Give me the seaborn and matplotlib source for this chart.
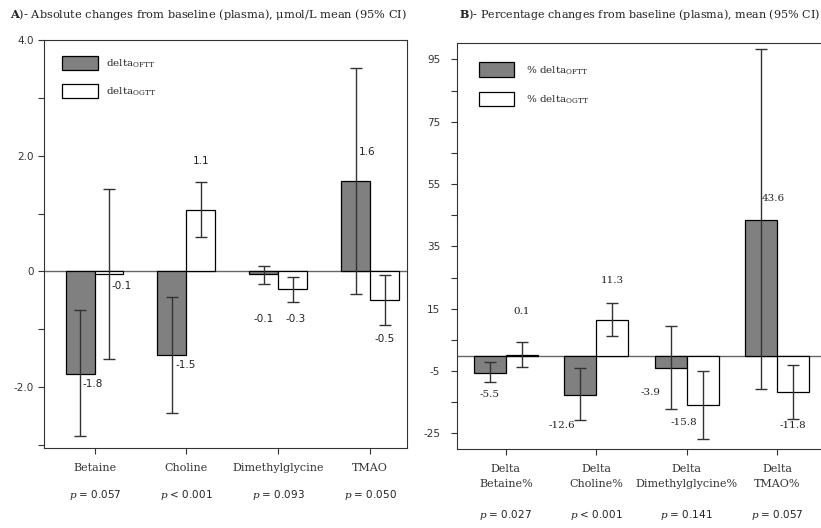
import pandas as pd
import matplotlib.pyplot as plt
import seaborn as sns

# data
cats_a = ['Betaine', 'Choline', 'Dimethylglycine', 'TMAO']
oftt_a = [-1.77, -1.45, -0.05, 1.56]
ogtt_a = [-0.04, 1.06, -0.31, -0.50]
oftt_a_lo = [-2.85, -2.44, -0.21, -0.39]
oftt_a_hi = [-0.66, -0.45, 0.10, 3.52]
ogtt_a_lo = [-1.52, 0.60, -0.52, -0.92]
ogtt_a_hi = [1.42, 1.54, -0.10, -0.06]
lab_oftt_a = ['-1.8', '-1.5', '-0.1', '1.6']
lab_ogtt_a = ['-0.1', '1.1', '-0.3', '-0.5']
p_a = ['0.057', '< 0.001', '0.093', '0.050']

cats_b = ['Delta\nBetaine%', 'Delta\nCholine%', 'Delta\nDimethylglycine%', 'Delta\nTMAO%']
oftt_b = [-5.5, -12.6, -3.9, 43.6]
ogtt_b = [0.1, 11.3, -15.8, -11.8]
oftt_b_lo = [-8.6, -20.8, -17.1, -10.7]
oftt_b_hi = [-2.1, -4.1, 9.5, 98.3]
ogtt_b_lo = [-3.8, 6.4, -26.7, -20.5]
ogtt_b_hi = [4.3, 16.7, -5.0, -3.1]
lab_oftt_b = ['-5.5', '-12.6', '-3.9', '43.6']
lab_ogtt_b = ['0.1', '11.3', '-15.8', '-11.8']
p_b = ['0.027', '< 0.001', '0.141', '0.057']

groups = ['OFTT', 'OGTT']

sns.set_style('ticks')
plt.rcParams['font.family'] = ['DejaVu Serif']
plt.rcParams['mathtext.fontset'] = 'dejavuserif'

fig = plt.figure(figsize=(8.21, 5.28), dpi=100)
ax1 = fig.add_axes([0.0536, 0.1515, 0.442, 0.773])
ax2 = fig.add_axes([0.5566, 0.1496, 0.445, 0.769])


def long_df(cats, a, b):
    return pd.DataFrame({
        'cat': cats * 2,
        'grp': ['OFTT'] * len(cats) + ['OGTT'] * len(cats),
        'val': a + b,
    })


def panel(ax, cats, a, b, alo, ahi, blo, bhi, width):
    df = long_df(cats, a, b)
    sns.barplot(df, x='cat', y='val', hue='grp', order=cats, hue_order=groups,
                palette={'OFTT': '#808080', 'OGTT': 'white'}, edgecolor='black',
                linewidth=0.9, width=width, ax=ax, legend=False, errorbar=None)
    centers = []
    for cont, lo, hi in zip(ax.containers, [alo, blo], [ahi, bhi]):
        xs = [p.get_x() + p.get_width() / 2 for p in cont]
        vals = [p.get_height() for p in cont]
        centers.append(xs)
        ax.errorbar(xs, vals, yerr=[[v - l for v, l in zip(vals, lo)],
                                    [h - v for v, h in zip(vals, hi)]],
                    fmt='none', ecolor='#333333', elinewidth=1, capsize=4, capthick=1)
    ax.axhline(0, color='#666666', lw=1, zorder=0.5)
    ax.set_xlabel('')
    ax.set_ylabel('')
    for s in ax.spines.values():
        s.set_color('#333333')
    ax.tick_params(colors='#333333', length=4, width=0.8, which='both', labelsize=7.5)
    return centers


# ---- panel A
ca = panel(ax1, cats_a, oftt_a, ogtt_a, oftt_a_lo, oftt_a_hi, ogtt_a_lo, ogtt_a_hi, 0.63)
ax1.set_xlim(-0.55, 3.4)
ax1.set_ylim(-3.05, 4.0)
ax1.set_yticks([-2, 0, 2, 4])
ax1.set_yticklabels(['-2.0', '0', '2.0', '4.0'], family='DejaVu Sans')
ax1.set_yticks([-3, -1, 1, 3], minor=True)
ax1.tick_params(axis='x', labelsize=8, pad=7)

# label positions: (x offset, y) per bar
pos_oftt_a = [(0.14, -1.95), (0.15, -1.61), (0.0, -0.82), (0.13, 2.06)]
pos_ogtt_a = [(0.14, -0.26), (0.0, 1.91), (0.03, -0.82), (0.0, -1.16)]
for xs, labs, pos in [(ca[0], lab_oftt_a, pos_oftt_a), (ca[1], lab_ogtt_a, pos_ogtt_a)]:
    for x, t, (dx, y) in zip(xs, labs, pos):
        ax1.text(x + dx, y, t, ha='center', va='center', fontsize=7.5,
                 family='DejaVu Sans', color='#222222')
for i, p in enumerate(p_a):
    ax1.text(i, -0.115, r'$p$ ' + ('' if p.startswith('<') else '= ') + p,
             transform=ax1.get_xaxis_transform(), ha='center', va='center',
             fontsize=7.5, family='DejaVu Sans', color='#222222')
ax1.legend(ax1.containers[:2], [r'delta$_{\rm OFTT}$', r'delta$_{\rm OGTT}$'],
           loc='upper left', bbox_to_anchor=(0.05, 0.961), frameon=False,
           borderaxespad=0, borderpad=0, handlelength=3.4, handleheight=1.75,
           labelspacing=1.3, handletextpad=0.85, fontsize=7.5)

# ---- panel B
cb = panel(ax2, cats_b, oftt_b, ogtt_b, oftt_b_lo, oftt_b_hi, ogtt_b_lo, ogtt_b_hi, 0.71)
ax2.set_xlim(-0.54, 3.5)
ax2.set_ylim(-30, 100.3)
ax2.set_yticks([-25, -5, 15, 35, 55, 75, 95])
ax2.set_yticklabels(['-25', '-5', '15', '35', '55', '75', '95'], family='DejaVu Sans')
ax2.set_yticks([-15, 5, 25, 45, 65, 85], minor=True)
ax2.tick_params(axis='y', pad=8)
ax2.tick_params(axis='x', labelsize=8, pad=7)
for t in ax2.get_xticklabels():
    t.set_linespacing(1.6)
ax2.spines['right'].set_visible(False)

pos_oftt_b = [(0.0, -12.5), (-0.2, -22.3), (-0.22, -11.9), (0.14, 50.3)]
pos_ogtt_b = [(0.0, 14.2), (0.0, 24.0), (-0.21, -21.5), (0.0, -22.3)]
for xs, labs, pos in [(cb[0], lab_oftt_b, pos_oftt_b), (cb[1], lab_ogtt_b, pos_ogtt_b)]:
    for x, t, (dx, y) in zip(xs, labs, pos):
        ax2.text(x + dx, y, t, ha='center', va='center', fontsize=7.5, color='#222222')
for i, p in enumerate(p_b):
    ax2.text(i, -0.163, r'$p$ ' + ('' if p.startswith('<') else '= ') + p,
             transform=ax2.get_xaxis_transform(), ha='center', va='center',
             fontsize=7.5, family='DejaVu Sans', color='#222222')
ax2.legend(ax2.containers[:2], [r'% delta$_{\rm OFTT}$', r'% delta$_{\rm OGTT}$'],
           loc='upper left', bbox_to_anchor=(0.06, 0.952), frameon=False,
           borderaxespad=0, borderpad=0, handlelength=3.4, handleheight=1.75,
           labelspacing=1.45, handletextpad=1.1, fontsize=7.5)

# titles
fig.text(0.012, 0.973, r'$\mathbf{A}$)- Absolute changes from baseline (plasma), μmol/L mean (95% CI)',
         ha='left', va='center', fontsize=8.2, color='#222222')
fig.text(0.559, 0.973, r'$\mathbf{B}$)- Percentage changes from baseline (plasma), mean (95% CI)',
         ha='left', va='center', fontsize=8.0, color='#222222')

fig.savefig('out.png', dpi=100)
